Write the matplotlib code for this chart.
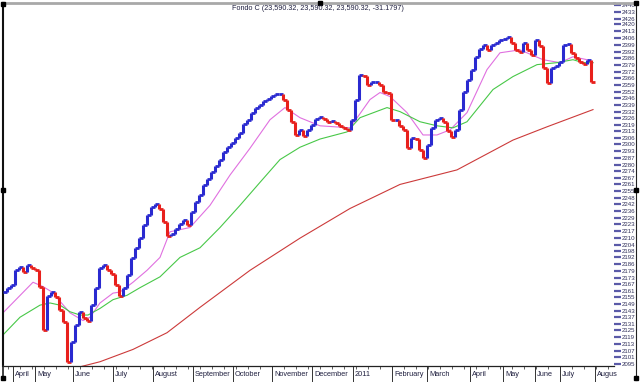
import matplotlib
matplotlib.use("Agg")
import matplotlib.pyplot as plt
import matplotlib.transforms as mtransforms
from matplotlib.lines import Line2D
from matplotlib.ticker import FixedLocator, FixedFormatter, NullLocator

# closing values, one per bar
close = [
    2160, 2164, 2166, 2180, 2183, 2178, 2185, 2182, 2180, 2165,
    2125, 2156, 2160, 2155, 2144, 2133, 2097, 2115, 2130, 2142,
    2136, 2134, 2148, 2164, 2182, 2185, 2180, 2177, 2166, 2156,
    2164, 2176, 2191, 2201, 2210, 2222, 2232, 2239, 2242, 2238,
    2225, 2212, 2214, 2219, 2223, 2227, 2222, 2235, 2244, 2251,
    2260, 2266, 2273, 2279, 2285, 2292, 2297, 2301, 2306, 2311,
    2320, 2324, 2331, 2336, 2339, 2343, 2345, 2348, 2350, 2350,
    2344, 2334, 2322, 2309, 2314, 2308, 2314, 2319, 2325, 2327,
    2325, 2322, 2323, 2321, 2318, 2316, 2314, 2324, 2344, 2369,
    2368, 2359, 2362, 2362, 2359, 2352, 2351, 2324, 2324, 2318,
    2314, 2296, 2306, 2305, 2294, 2287, 2299, 2316, 2324, 2326,
    2322, 2313, 2307, 2314, 2334, 2352, 2364, 2374, 2387, 2395,
    2399, 2394, 2399, 2401, 2404, 2405, 2407, 2401, 2394, 2392,
    2401, 2394, 2389, 2404, 2398, 2376, 2361, 2376, 2378, 2382,
    2399, 2400, 2391, 2386, 2382, 2380, 2384, 2362,
]

# moving averages (bar index, value)
fast_idx = [0, 7.5, 10, 12.25, 16.75, 20, 21.75, 24.25, 27.5, 29.25, 32.5, 36, 39.25,
            41.75, 46.75, 51.75, 56.75, 61.75, 66.75, 70.5, 74.25, 79.25, 86.75, 91.75,
            94.25, 96.75, 101, 105, 108.5, 111.75, 116, 121, 124.25, 129.25, 135,
            139.25, 142.5, 146, 147.5]
fast_val = [2141, 2169, 2165, 2160, 2141, 2134, 2137, 2150, 2159, 2160, 2169, 2180, 2192,
            2216, 2220, 2241, 2270, 2296, 2324, 2336, 2326, 2318, 2316, 2344,
            2351, 2347, 2331, 2309, 2309, 2314, 2331, 2374, 2391, 2394, 2384,
            2381, 2387, 2384, 2381]

mid_idx = [0, 4.25, 9.25, 11.75, 14.25, 16.75, 19.25, 21.25, 24.25, 27.5, 31, 34.25,
           39.25, 44.25, 49.25, 54.25, 59.25, 64.25, 69.25, 74.25, 79.25, 86, 89.25, 96,
           99.25, 104.25, 108.5, 112.5, 116, 122.5, 127.5, 133.5, 138.5, 142.5, 145,
           147.5]
mid_val = [2121, 2137, 2148, 2150, 2148, 2142, 2139, 2139, 2145, 2153, 2157, 2164,
           2174, 2192, 2201, 2220, 2241, 2263, 2285, 2297, 2305, 2312, 2326, 2336,
           2332, 2322, 2318, 2316, 2322, 2354, 2367, 2379, 2381, 2384, 2381,
           2381]

slow_idx = [18.75, 24.25, 32.5, 41, 49.25, 61.75, 74.25, 86.75, 99.25, 113.5, 127.5, 136, 147.5]
slow_val = [2092, 2097, 2108, 2123, 2146, 2180, 2210, 2238, 2261, 2275, 2304, 2317, 2334]

month_names = ["April", "May", "June", "July", "August", "September", "October",
               "November", "December", "2011", "February", "March", "April", "May",
               "June", "July", "Augus"]
month_pos = [2.5, 8, 17.5, 27.5, 37.5, 47.5, 57.5, 67.25, 77.25, 87.5, 97.25, 106,
             116.75, 125, 133, 139.25, 148]

ytick_labels = [2440, 2433, 2426, 2420, 2413, 2406, 2399, 2392, 2386, 2379, 2372, 2366,
                2359, 2352, 2346, 2339, 2332, 2326, 2319, 2313, 2306, 2300, 2293, 2287,
                2280, 2274, 2267, 2261, 2255, 2248, 2242, 2236, 2229, 2223, 2217, 2210,
                2204, 2198, 2192, 2186, 2179, 2173, 2167, 2161, 2155, 2149, 2143, 2137,
                2131, 2125, 2119, 2113, 2107, 2101, 2095]

title = "Fondo C (23,590.32, 23,590.32, 23,590.32, -31.1797)"

W, H = 640, 382
fig = plt.figure(figsize=(W / 100, H / 100), dpi=100)
ax = fig.add_axes([3 / W, 1 - 366 / H, 611 / W, 363 / H])

# price drawn as a coloured staircase
up_col, down_col = "#2a2ad0", "#e8201c"
for i in range(len(close)):
    prev = close[i - 1] if i > 0 else close[i]
    col = up_col if close[i] >= prev else down_col
    ax.plot([i, i], [prev, close[i]], color=col, lw=2.2, solid_capstyle="butt", zorder=3)
    ax.plot([i, i + 1], [close[i], close[i]], color=col, lw=2.0, solid_capstyle="butt", zorder=3)

ax.plot(fast_idx, fast_val, color="#e070e0", lw=0.8, zorder=2)
ax.plot(mid_idx, mid_val, color="#48c848", lw=0.8, zorder=2)
ax.plot(slow_idx, slow_val, color="#cc3a3a", lw=0.8, zorder=2)

ax.set_yscale("log")
ax.set_xlim(0, 152.75)
ax.set_ylim(2093.2, 2442.1)

ax.yaxis.tick_right()
ax.yaxis.set_major_locator(FixedLocator(ytick_labels))
ax.yaxis.set_major_formatter(FixedFormatter([str(v) for v in ytick_labels]))
ax.yaxis.set_minor_locator(NullLocator())
ax.tick_params(axis="y", which="major", direction="out", length=5, width=1.6,
               color="#5a5aa8", labelsize=4.4, labelcolor="#30305a", pad=0.8)
for lab in ax.get_yticklabels():
    lab.set_fontfamily("Liberation Sans")

ax.set_xticks([])
ax.xaxis.set_minor_locator(FixedLocator([x + 1.25 for x in range(0, 152, 3)]))
ax.tick_params(axis="x", which="minor", direction="out", length=2.5, width=0.6, color="#444444")

ax.spines["right"].set_visible(False)
ax.spines["top"].set_color("#a8a8a8")
ax.spines["top"].set_linewidth(2)
ax.spines["left"].set_color("#111111")
ax.spines["left"].set_linewidth(1.5)
ax.spines["bottom"].set_color("#222222")
ax.spines["bottom"].set_linewidth(0.9)

# month band under the plot
trans = mtransforms.blended_transform_factory(ax.transData, ax.transAxes)
for pos, name in zip(month_pos, month_names):
    ax.add_line(Line2D([pos, pos], [0, -0.042], transform=trans, color="#333333",
                       lw=0.7, clip_on=False))
    ax.text(pos + 0.5, -0.024, name, transform=trans, ha="left", va="center",
            fontsize=5.3, color="#202040", family="Liberation Sans", clip_on=False)

fig.text(318 / W, 1 - 9 / H, title, ha="center", va="center", fontsize=5.2,
         color="#202040", family="Liberation Sans")

# outer frame lines and selection handles
fig.add_artist(Line2D([614 / W, 636 / W], [1 - 3 / H, 1 - 3 / H], color="#a8a8a8", lw=2))
fig.add_artist(Line2D([636 / W, 636 / W], [1 - 3 / H, 1 - 380 / H], color="#222222", lw=0.8))
fig.add_artist(Line2D([3 / W, 3 / W], [1 - 366 / H, 1 - 380 / H], color="#222222", lw=1.2))
for hx, hy in [(3, 4), (320, 3), (636, 3), (3, 190), (636, 190), (3, 378), (636, 378)]:
    fig.add_artist(Line2D([hx / W], [1 - hy / H], marker="s", markersize=2.6,
                          color="black", lw=0))

fig.savefig("out.png", dpi=100)
